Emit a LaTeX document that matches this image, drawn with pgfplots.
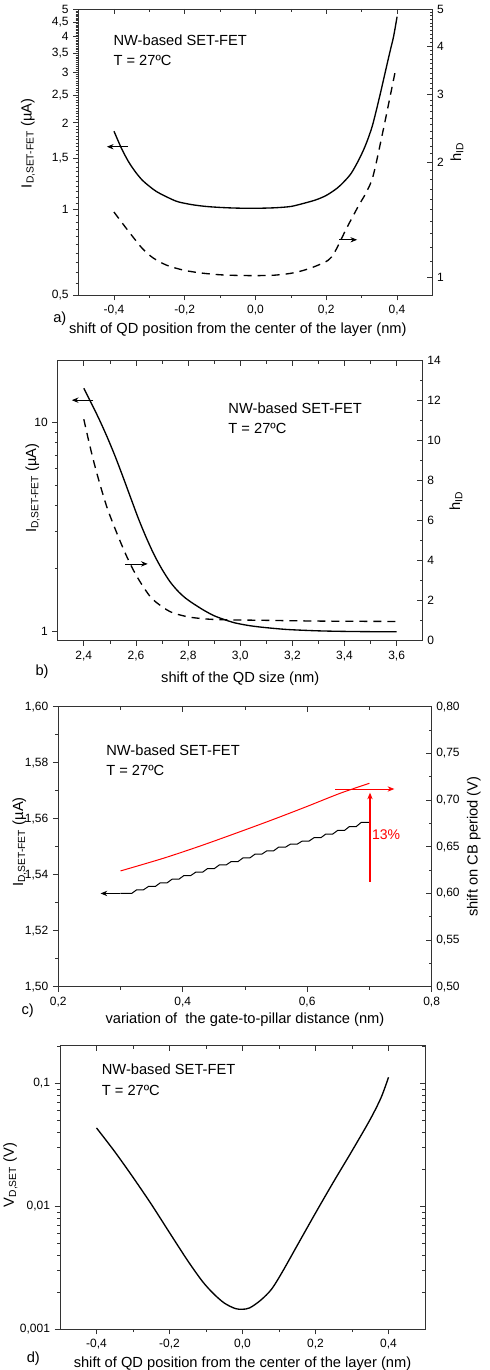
\documentclass[border=0pt]{standalone}
\usepackage{fontspec}
\setmainfont{Liberation Sans}
\usepackage{pgfplots}
\pgfplotsset{compat=1.18}
\usetikzlibrary{arrows.meta}

\pgfplotsset{
  base/.style={scale only axis, anchor=north west,
    font=\fontsize{11}{13}\selectfont,
    tick label style={font=\fontsize{9}{10}\selectfont},
    /pgf/number format/assume math mode=true,
    /pgf/number format/use comma,
    axis line style={black!80, line width=0.6pt},
    tick style={black!80, line width=0.5pt},
    major tick length=4pt, minor tick length=2.2pt},
  main/.style={base, clip=false, tick align=outside, xtick pos=bottom, ytick pos=left},
  twin/.style={base, axis x line*=top, axis y line*=right, tick align=inside,
    xticklabels={}},
}
\tikzset{
  arr/.style={-{Stealth[length=5pt,width=4pt]}, line width=0.6pt},
  curve/.style={black, line width=1pt, smooth},
  dcurve/.style={black, line width=1pt, smooth, dash pattern=on 6pt off 4.5pt},
  note/.style={anchor=north west, align=left, inner sep=0pt, font=\fontsize{11}{15.5}\selectfont},
  tag/.style={anchor=center, font=\fontsize{11}{13}\selectfont},
}

\begin{document}
\begin{tikzpicture}
\path[use as bounding box] (0,0) rectangle (366.75pt,-1027.5pt);

% ---------- a) ----------
\begin{axis}[main, at={(58.95pt,-6.75pt)}, width=265.4pt, height=214.5pt,
  xmin=-0.5, xmax=0.5, ymode=log, ymin=0.5, ymax=5,
  xtick={-0.4,-0.2,0,0.2,0.4}, minor x tick num=1,
  xticklabel style={/pgf/number format/.cd, fixed, fixed zerofill, precision=1},
  ytick={0.5,1,1.5,2,2.5,3,3.5,4,4.5,5},
  yticklabels={{0,5},1,{1,5},2,{2,5},3,{3,5},4,{4,5},5},
  minor ytick={0.55,0.6,...,4.95},
  xlabel={shift of QD position from the center of the layer (nm)},
  xlabel style={at={(axis description cs:0.45,-0.082)}, anchor=north},
  ylabel={I\textsubscript{D,SET-FET} (µA)},
  ylabel style={at={(axis description cs:-0.143,0.53)}, anchor=center},
]
\addplot[curve] coordinates {
 (-0.40,1.87) (-0.38,1.64) (-0.36,1.47) (-0.34,1.35) (-0.32,1.26) (-0.30,1.20)
 (-0.28,1.15) (-0.25,1.10) (-0.22,1.06) (-0.18,1.035) (-0.14,1.02) (-0.10,1.012)
 (-0.06,1.007) (-0.02,1.005) (0.02,1.006) (0.06,1.01) (0.10,1.02) (0.135,1.045)
 (0.17,1.075) (0.20,1.115) (0.23,1.18) (0.25,1.245) (0.27,1.33) (0.29,1.47)
 (0.31,1.66) (0.33,1.95) (0.35,2.45) (0.365,2.95) (0.38,3.55) (0.39,4.0) (0.40,4.70)
};
\addplot[arr] coordinates {(-0.36,1.65) (-0.42,1.65)};
\addplot[arr] coordinates {(0.236,0.78) (0.287,0.78)};
\node[note] at (rel axis cs:0.098,0.912) {NW-based SET-FET\\T = 27ºC};
\node[tag] at (axis description cs:-0.053,-0.082) {a)};
\end{axis}
\begin{axis}[twin, at={(58.95pt,-6.75pt)}, width=265.4pt, height=214.5pt,
  xmin=-0.5, xmax=0.5, ymode=log, ymin=0.9, ymax=5,
  xtick={-0.4,-0.2,0,0.2,0.4}, minor x tick num=1,
  ytick={1,2,3,4,5}, yticklabels={1,2,3,4,5},
  minor ytick={0.9,1.1,1.2,...,4.9},
  ylabel={h\textsubscript{ID}},
  ylabel style={at={(axis description cs:1.069,0.5)}, anchor=center},
]
\addplot[dcurve] coordinates {
 (-0.40,1.48) (-0.37,1.36) (-0.345,1.27) (-0.32,1.19) (-0.29,1.125) (-0.25,1.075)
 (-0.20,1.043) (-0.15,1.026) (-0.10,1.016) (-0.05,1.012) (0.0,1.011) (0.05,1.013)
 (0.10,1.025) (0.135,1.043) (0.17,1.07) (0.205,1.108) (0.224,1.165) (0.257,1.341)
 (0.29,1.53) (0.314,1.672) (0.333,1.849) (0.36,2.40) (0.38,2.95) (0.397,3.52)
};
\end{axis}

% ---------- b) ----------
\begin{axis}[main, at={(43.3pt,-270.5pt)}, width=273.75pt, height=210pt,
  xmin=2.3, xmax=3.7, ymode=log, ymin=0.9, ymax=19.8,
  xtick={2.4,2.6,2.8,3.0,3.2,3.4,3.6}, minor x tick num=1,
  xticklabel style={/pgf/number format/.cd, fixed, fixed zerofill, precision=1},
  ytick={1,10}, yticklabels={1,10},
  minor ytick={2,3,4,5,6,7,8,9},
  xlabel={shift of the QD size (nm)},
  xlabel style={at={(axis description cs:0.5,-0.093)}, anchor=north},
  ylabel={I\textsubscript{D,SET-FET} (µA)},
  ylabel style={at={(axis description cs:-0.069,0.545)}, anchor=center},
]
\addplot[curve] coordinates {
 (2.40,14.6) (2.43,12.3) (2.46,10.3) (2.49,8.5) (2.52,6.9) (2.55,5.5)
 (2.58,4.35) (2.61,3.45) (2.64,2.80) (2.67,2.32) (2.70,1.98) (2.73,1.73)
 (2.76,1.56) (2.79,1.44) (2.82,1.355) (2.86,1.26) (2.90,1.185) (2.94,1.135)
 (2.98,1.095) (3.03,1.065) (3.08,1.045) (3.15,1.025) (3.2,1.015) (3.3,1.003)
 (3.4,0.997) (3.5,0.994) (3.6,0.993)
};
\addplot[arr] coordinates {(2.437,12.8) (2.354,12.8)};
\addplot[arr] coordinates {(2.559,2.10) (2.645,2.10)};
\node[note] at (rel axis cs:0.467,0.852) {NW-based SET-FET\\T = 27ºC};
\node[tag] at (axis description cs:-0.043,-0.112) {b)};
\end{axis}
\begin{axis}[twin, at={(43.3pt,-270.5pt)}, width=273.75pt, height=210pt,
  xmin=2.3, xmax=3.7, ymin=0, ymax=14,
  xtick={2.4,2.6,2.8,3.0,3.2,3.4,3.6}, minor x tick num=1,
  ytick={0,2,...,14}, minor y tick num=1,
  ylabel={h\textsubscript{ID}},
  ylabel style={at={(axis description cs:1.091,0.5)}, anchor=center},
]
\addplot[dcurve] coordinates {
 (2.40,11.07) (2.424,9.7) (2.45,8.37) (2.488,6.7) (2.527,5.37) (2.565,4.2)
 (2.604,3.2) (2.655,2.2) (2.70,1.7) (2.74,1.40) (2.796,1.2) (2.84,1.12)
 (2.886,1.07) (2.95,1.04) (3.08,1.02) (3.3,0.98) (3.6,0.96)
};
\end{axis}

% ---------- c) ----------
\begin{axis}[main, at={(43.7pt,-530pt)}, width=280pt, height=210pt,
  xmin=0.2, xmax=0.8, ymin=1.50, ymax=1.60,
  xtick={0.2,0.4,0.6,0.8}, minor x tick num=1,
  xticklabel style={/pgf/number format/.cd, fixed, fixed zerofill, precision=1},
  ytick={1.50,1.52,1.54,1.56,1.58,1.60}, minor y tick num=1,
  yticklabel style={/pgf/number format/.cd, fixed, fixed zerofill, precision=2},
  xlabel={variation of\ \ the gate-to-pillar distance (nm)},
  xlabel style={at={(axis description cs:0.5,-0.076)}, anchor=north},
  ylabel={I\textsubscript{D,SET-FET} (µA)},
  ylabel style={at={(axis description cs:-0.104,0.517)}, anchor=center},
]
\addplot[black, line width=0.75pt] coordinates {
 (0.300,1.5333) (0.318,1.5333) (0.326,1.5346) (0.337,1.5346) (0.345,1.5358)
 (0.356,1.5358) (0.364,1.5371) (0.375,1.5371) (0.383,1.5384) (0.394,1.5384)
 (0.402,1.5397) (0.413,1.5397) (0.421,1.5409) (0.432,1.5409) (0.440,1.5422)
 (0.451,1.5422) (0.459,1.5435) (0.470,1.5435) (0.478,1.5447) (0.489,1.5447)
 (0.497,1.5460) (0.508,1.5460) (0.516,1.5473) (0.527,1.5473) (0.535,1.5485)
 (0.546,1.5485) (0.554,1.5498) (0.565,1.5498) (0.573,1.5509) (0.584,1.5509)
 (0.592,1.5520) (0.603,1.5520) (0.611,1.5532) (0.622,1.5532) (0.630,1.5545)
 (0.641,1.5545) (0.649,1.5558) (0.660,1.5558) (0.668,1.5572) (0.679,1.5572)
 (0.687,1.5587) (0.700,1.5587)
};
\addplot[arr] coordinates {(0.30,1.5333) (0.268,1.5333)};
\node[anchor=west, text=red, inner sep=0pt, font=\fontsize{10.5}{12}\selectfont] at (axis cs:0.704,1.5542) {13\%};
\node[note] at (rel axis cs:0.128,0.866) {NW-based SET-FET\\T = 27ºC};
\node[tag] at (axis description cs:-0.082,-0.087) {c)};
\end{axis}
\begin{axis}[twin, at={(43.7pt,-530pt)}, width=280pt, height=210pt,
  xmin=0.2, xmax=0.8, ymin=0.5, ymax=0.8,
  xtick={0.2,0.4,0.6,0.8}, minor x tick num=1,
  ytick={0.50,0.55,0.60,0.65,0.70,0.75,0.80}, minor y tick num=1,
  yticklabel style={/pgf/number format/.cd, fixed, fixed zerofill, precision=2},
  ylabel={shift on CB period (V)},
  ylabel style={at={(axis description cs:1.113,0.5)}, anchor=center},
]
\addplot[red, line width=0.75pt, smooth] coordinates {
 (0.30,0.624) (0.369,0.6376) (0.428,0.6507) (0.492,0.666) (0.546,0.6793)
 (0.599,0.6929) (0.653,0.7072) (0.70,0.7179)
};
\addplot[arr, color=red] coordinates {(0.645,0.7118) (0.740,0.7118)};
\addplot[arr, color=red, line width=1pt] coordinates {(0.701,0.6125) (0.701,0.7079)};
\end{axis}

% ---------- d) ----------
\begin{axis}[main, at={(45pt,-784.3pt)}, width=273.75pt, height=212.5pt,
  xmin=-0.5, xmax=0.5, ymode=log, ymin=0.001, ymax=0.2024,
  xtick={-0.4,-0.2,0,0.2,0.4}, minor x tick num=1,
  xticklabel style={/pgf/number format/.cd, fixed, fixed zerofill, precision=1},
  ytick={0.001,0.01,0.1}, yticklabels={{0,001},{0,01},{0,1}},
  minor ytick={0.002,0.003,0.004,0.005,0.006,0.007,0.008,0.009,
    0.02,0.03,0.04,0.05,0.06,0.07,0.08,0.09,0.2},
  xlabel={shift of QD position from the center of the layer (nm)},
  xlabel style={at={(axis description cs:0.5,-0.08)}, anchor=north},
  ylabel={V\textsubscript{D,SET} (V)},
  ylabel style={at={(axis description cs:-0.136,0.544)}, anchor=center},
]
\addplot[curve] coordinates {
 (-0.40,0.0434) (-0.35,0.0278) (-0.30,0.0172) (-0.25,0.0104) (-0.20,0.0061)
 (-0.15,0.0036) (-0.11,0.00245) (-0.08,0.00195) (-0.05,0.00163)
 (-0.02,0.00147) (0.0,0.00145) (0.02,0.00149) (0.05,0.00172) (0.08,0.00212)
 (0.11,0.00295) (0.15,0.0048) (0.20,0.0088) (0.25,0.0159) (0.30,0.0282)
 (0.35,0.0510) (0.38,0.077) (0.40,0.112)
};
\node[note] at (rel axis cs:0.114,0.937) {NW-based SET-FET\\T = 27ºC};
\node[tag] at (axis description cs:-0.073,-0.106) {d)};
\end{axis}
\begin{axis}[twin, at={(45pt,-784.3pt)}, width=273.75pt, height=212.5pt,
  xmin=-0.5, xmax=0.5, ymode=log, ymin=0.001, ymax=0.2024,
  xtick={-0.4,-0.2,0,0.2,0.4}, minor x tick num=1,
  ytick={0.001,0.01,0.1}, yticklabels={},
  minor ytick={0.002,0.003,0.004,0.005,0.006,0.007,0.008,0.009,
    0.02,0.03,0.04,0.05,0.06,0.07,0.08,0.09,0.2},
]
\end{axis}
\end{tikzpicture}
\end{document}
